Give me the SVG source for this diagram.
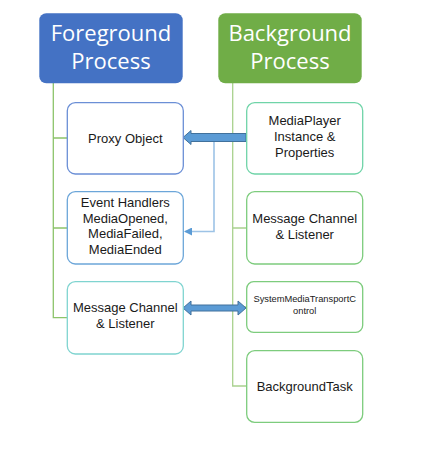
<svg xmlns="http://www.w3.org/2000/svg" width="433" height="451" viewBox="0 0 433 451">
<style>
text{font-family:"Liberation Sans",Arial,sans-serif;text-anchor:middle;fill:#1a1a1a}
.hdr{font-family:"Open Sans","Liberation Sans",sans-serif;font-size:22px;fill:#ffffff}
.t{font-size:13px}
.s{font-size:9.3px}
.box{fill:#ffffff;stroke-width:1.3}
.trunkF{stroke:#8cc46a;stroke-width:1.3;fill:none}
.trunkB{stroke:#a9d18e;stroke-width:1.3;fill:none}
.blk{fill:#5b9bd5;stroke:#41719c;stroke-width:1}
.thin{stroke:#9dc3e6;stroke-width:1.6;fill:none}
</style>
<defs>
<marker id="ah" markerWidth="8" markerHeight="8" refX="7" refY="4" orient="auto" markerUnits="userSpaceOnUse">
<path d="M0,0 L8,4 L0,8 Z" fill="#5b9bd5"/>
</marker>
</defs>
<rect width="433" height="451" fill="#ffffff"/>
<g id="connectors">
<path class="trunkF" d="M53.3,83 V317.7 H67.3 M53.3,138 H67.3 M53.3,228 H67.3"/>
<path class="trunkB" d="M232.7,83 V386 H246.7 M232.7,138 H246.7 M232.7,228 H246.7 M232.7,307 H246.7"/>
<path class="thin" d="M214,141.5 V231.5 H185" marker-end="url(#ah)"/>
<polygon class="blk" points="183,137.5 191,130.5 191,133.5 246,133.5 246,141.5 191,141.5 191,144.5"/>
<polygon class="blk" points="183,308 191,301 191,305 238,305 238,301 246,308 238,315 238,311 191,311 191,315"/>
</g>
<g id="foreground">
<rect x="39.3" y="13.3" width="143.4" height="70" rx="7" fill="#4472c4"/>
<text class="hdr" x="111" y="40.7">Foreground</text>
<text class="hdr" x="111" y="69.3">Process</text>
</g>
<g id="background">
<rect x="218.3" y="13.3" width="143.4" height="70" rx="7" fill="#70ad47"/>
<text class="hdr" x="290" y="40.7">Background</text>
<text class="hdr" x="290" y="69.3">Process</text>
</g>
<g id="proxy">
<rect class="box" x="67.3" y="102.7" width="116" height="71.3" rx="8" stroke="#6b8fd6"/>
<text class="t" x="125.3" y="142.5">Proxy Object</text>
</g>
<g id="events">
<rect class="box" x="67.3" y="191.7" width="116" height="72.3" rx="8" stroke="#6ca6d9"/>
<text class="t" x="125.3" y="206.7">Event Handlers</text>
<text class="t" x="125.3" y="222.5">MediaOpened,</text>
<text class="t" x="125.3" y="238.3">MediaFailed,</text>
<text class="t" x="125.3" y="254">MediaEnded</text>
</g>
<g id="fgchannel">
<rect class="box" x="67.3" y="281.7" width="116" height="72.3" rx="8" stroke="#7fd4d0"/>
<text class="t" x="125.3" y="312.3">Message Channel</text>
<text class="t" x="125.3" y="328.3">&amp; Listener</text>
</g>
<g id="mediaplayer">
<rect class="box" x="246.7" y="102.7" width="116" height="71.3" rx="8" stroke="#6fd4a8"/>
<text class="t" x="304.7" y="125">MediaPlayer</text>
<text class="t" x="304.7" y="140.7">Instance &amp;</text>
<text class="t" x="304.7" y="156.7">Properties</text>
</g>
<g id="bgchannel">
<rect class="box" x="246.7" y="191.7" width="116" height="72.3" rx="8" stroke="#7dcc7d"/>
<text class="t" x="304.7" y="223.3">Message Channel</text>
<text class="t" x="304.7" y="239">&amp; Listener</text>
</g>
<g id="smtc">
<rect class="box" x="246.7" y="281.7" width="116" height="50.6" rx="7" stroke="#7dcc7d"/>
<text class="s" x="304.7" y="302.3">SystemMediaTransportC</text>
<text class="s" x="304.7" y="314">ontrol</text>
</g>
<g id="bgtask">
<rect class="box" x="246.7" y="350.7" width="116" height="71.6" rx="8" stroke="#7dcc7d"/>
<text class="t" x="304.7" y="390.5">BackgroundTask</text>
</g>
</svg>
